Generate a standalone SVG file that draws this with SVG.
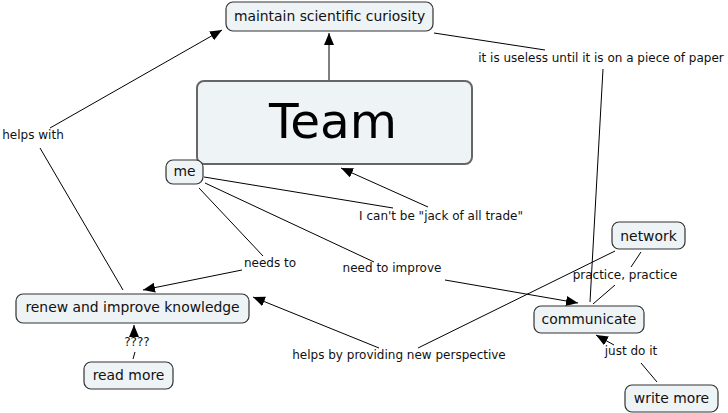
<svg xmlns="http://www.w3.org/2000/svg" width="728" height="413" viewBox="0 0 728 413">
<defs>
<marker id="arr" markerUnits="userSpaceOnUse" markerWidth="13" markerHeight="11" refX="12" refY="5" orient="auto">
<path d="M0,0 L12,5 L0,10 z" fill="#000"/>
</marker>
<style>
.n{fill:#eef3f5;stroke:#333;stroke-width:1.2}
.nt{font-family:"DejaVu Sans",Verdana,sans-serif;font-size:13.9px;fill:#111;text-anchor:middle}
.l{font-family:"DejaVu Sans",Verdana,sans-serif;font-size:12px;fill:#111;text-anchor:middle}
.c{stroke:#000;stroke-width:1;fill:none}
.a{marker-end:url(#arr)}
</style>
</defs>
<rect width="728" height="413" fill="#fff"/>
<g id="connectors">
<line class="c a" x1="329" y1="81" x2="329" y2="33"/>
<line class="c" x1="123" y1="290" x2="40" y2="148"/>
<line class="c a" x1="50" y1="128" x2="222" y2="30"/>
<line class="c" x1="199" y1="188" x2="263" y2="256"/>
<line class="c a" x1="242" y1="270" x2="143" y2="290"/>
<line class="c" x1="205" y1="183" x2="374" y2="262"/>
<line class="c a" x1="445" y1="280" x2="578" y2="303"/>
<line class="c" x1="204" y1="177" x2="393" y2="208"/>
<line class="c a" x1="428" y1="207" x2="341" y2="168"/>
<line class="c" x1="615" y1="251" x2="418" y2="348"/>
<line class="c a" x1="379" y1="348" x2="253" y2="297"/>
<line class="c" x1="133" y1="359" x2="135" y2="352"/>
<line class="c a" x1="134" y1="336" x2="134" y2="325"/>
<line class="c" x1="590" y1="302" x2="603" y2="69"/>
<line class="c" x1="545" y1="50" x2="434" y2="33"/>
<line class="c" x1="593" y1="304" x2="615" y2="285"/>
<line class="c" x1="631" y1="267" x2="641" y2="252"/>
<line class="c" x1="657" y1="382" x2="641" y2="363"/>
<line class="c a" x1="614" y1="345" x2="596" y2="335"/>
</g>
<g id="labels">
<text class="l" x="33" y="139">helps with</text>
<text class="l" x="441" y="220">I can't be "jack of all trade"</text>
<text class="l" x="270" y="267">needs to</text>
<text class="l" x="392" y="272">need to improve</text>
<text class="l" x="399" y="359">helps by providing new perspective</text>
<text class="l" x="137" y="346">????</text>
<text class="l" x="601" y="62">it is useless until it is on a piece of paper</text>
<text class="l" x="625" y="279">practice, practice</text>
<text class="l" x="631" y="355">just do it</text>
</g>
<g id="maintain">
<rect class="n" x="226" y="2" width="207" height="29" rx="7"/>
<text class="nt" x="329.5" y="21">maintain scientific curiosity</text>
</g>
<g id="team">
<rect x="197" y="81" width="275" height="83" rx="7" fill="#eef3f5" stroke="#666" stroke-width="2"/>
<text x="333" y="138" font-family="DejaVu Sans,Verdana,sans-serif" font-size="48.5" fill="#000" text-anchor="middle">Team</text>
</g>
<g id="me">
<rect class="n" x="166" y="160" width="37" height="24" rx="7"/>
<text class="nt" x="184.5" y="176">me</text>
</g>
<g id="renew">
<rect class="n" x="16" y="294" width="233" height="29" rx="7"/>
<text class="nt" x="132.5" y="312">renew and improve knowledge</text>
</g>
<g id="readmore">
<rect class="n" x="84" y="362" width="89" height="27" rx="7"/>
<text class="nt" x="128.5" y="380">read more</text>
</g>
<g id="network">
<rect class="n" x="612" y="222" width="73" height="27" rx="7"/>
<text class="nt" x="648.5" y="241">network</text>
</g>
<g id="communicate">
<rect class="n" x="534" y="306" width="110" height="27" rx="7"/>
<text class="nt" x="589" y="324">communicate</text>
</g>
<g id="writemore">
<rect class="n" x="625" y="385" width="93" height="27" rx="7"/>
<text class="nt" x="671.5" y="403">write more</text>
</g>
</svg>
